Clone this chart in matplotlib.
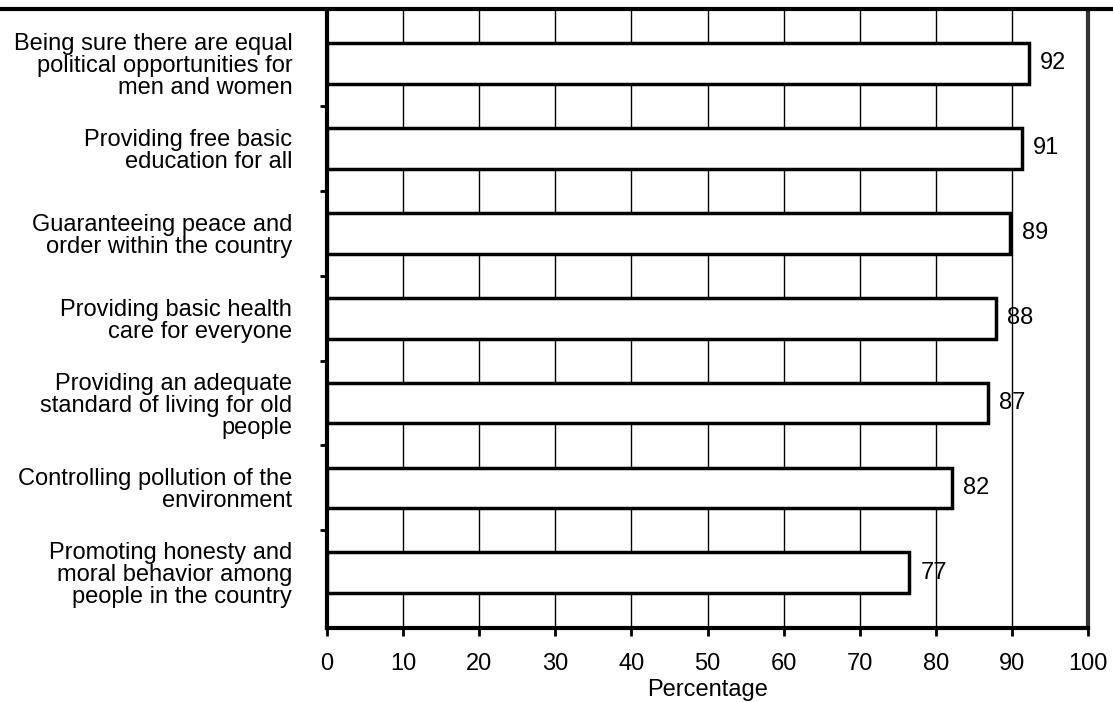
import matplotlib
matplotlib.use("Agg")
import matplotlib.pyplot as plt
from matplotlib.lines import Line2D

plt.rcParams['font.family'] = ['Liberation Sans', 'DejaVu Sans']

categories = [
    "Being sure there are equal\npolitical opportunities for\nmen and women",
    "Providing free basic\neducation for all",
    "Guaranteeing peace and\norder within the country",
    "Providing basic health\ncare for everyone",
    "Providing an adequate\nstandard of living for old\npeople",
    "Controlling pollution of the\nenvironment",
    "Promoting honesty and\nmoral behavior among\npeople in the country",
]
values = [92.2, 91.3, 89.8, 87.9, 86.8, 82.1, 76.5]
value_labels = ["92", "91", "89", "88", "87", "82", "77"]
xticks = [0, 10, 20, 30, 40, 50, 60, 70, 80, 90, 100]
xlabel = "Percentage"

FS = 17

fig = plt.figure(figsize=(11.13, 7.02), dpi=100)
ax = fig.add_axes([327/1113, 74/702, (1088-327)/1113, (628-10)/702])

ypos = list(range(len(categories)))
ax.barh(ypos, values, height=0.48, color='white', edgecolor='black',
        linewidth=2.5, zorder=3)
for y, v, lab in zip(ypos, values, value_labels):
    ax.text(v + 1.5, y, lab, va='center', ha='left', fontsize=FS, zorder=4)

ax.set_xlim(0, 100)
ax.set_ylim(6.65, -0.63)
ax.set_xticks(xticks)
ax.set_xticklabels([str(t) for t in xticks], fontsize=FS)
ax.set_yticks(ypos)
ax.set_yticklabels(categories, fontsize=FS, linespacing=1.0)
ax.tick_params(axis='y', which='major', length=0, pad=25)
ax.set_yticks([k + 0.5 for k in range(6)], minor=True)
ax.tick_params(axis='y', which='minor', length=5, width=2, direction='out')
ax.tick_params(axis='x', length=6, width=2, direction='out', pad=12)
ax.set_xlabel(xlabel, fontsize=FS, labelpad=3)

ax.set_axisbelow(True)
ax.grid(axis='x', color='black', linewidth=1)
ax.grid(axis='y', visible=False)

ax.spines['left'].set_linewidth(3)
ax.spines['bottom'].set_linewidth(3)
ax.spines['right'].set_linewidth(3)
ax.spines['right'].set_color('#333333')
ax.spines['top'].set_visible(False)

fig.add_artist(Line2D([0, 1], [(702-9)/702, (702-9)/702], color='black',
                      linewidth=3, transform=fig.transFigure))

fig.savefig("out.png", dpi=100)
